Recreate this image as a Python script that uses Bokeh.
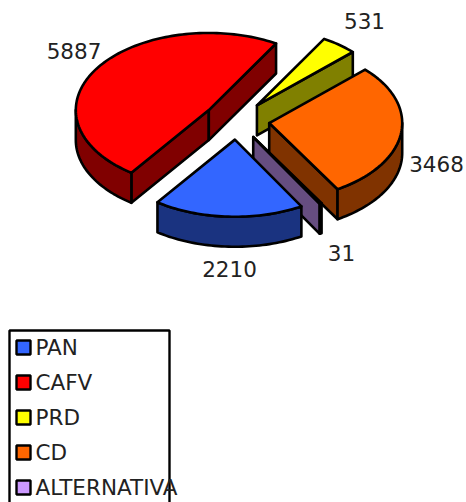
import math
from bokeh.embed import file_html
from bokeh.models import Range1d
from bokeh.plotting import figure
from bokeh.resources import INLINE
from bokeh.core.properties import value

# Data
categories = ["PAN", "CAFV", "PRD", "CD", "ALTERNATIVA"]
votes = [2210, 5887, 531, 3468, 31]
top_colors = ["#3366FF", "#FF0000", "#FFFF00", "#FF6600", "#CC99FF"]
side_colors = ["#1A3380", "#800000", "#808000", "#803300", "#664D80"]

# Layout (page pixels)
CX, CY = 236.0, 120.0
RX, SQUASH = 133.0, 0.58
EXPLODE = 33.0
DEPTH = 30.0
START = 150.0
LINE_W = 2.6
DRAW_ORDER = [1, 2, 3, 4, 0]
LABEL_XY = {"PAN": (229, 268.5), "CAFV": (73.5, 50.5), "PRD": (364, 20.5), "CD": (436, 163.5), "ALTERNATIVA": (341, 252.5)}
FONT = "DejaVu Sans"
FONT_SIZE = "21.5px"
LEG_X0, LEG_X1, LEG_Y0, LEG_Y1 = 9, 169, 330, 530
ROW0, ROW_STEP = 347, 35

p = figure(width=466, height=502, output_backend="svg", toolbar_location=None,
           x_range=Range1d(0, 466), y_range=Range1d(502, 0), min_border=0,
           tools="", outline_line_color=None, background_fill_color="white")
p.axis.visible = False
p.grid.visible = False


def plan(deg, r=RX, ox=0.0, oy=0.0, drop=0.0):
    a = math.radians(deg)
    return ox + r * math.sin(a), oy - r * SQUASH * math.cos(a) + drop


def arc(a0, a1, ox, oy, drop=0.0):
    n = max(2, int(abs(a1 - a0) / 1.5) + 2)
    return [plan(a0 + (a1 - a0) * i / (n - 1), RX, ox, oy, drop) for i in range(n)]


def poly(pts, fill):
    p.patch([q[0] for q in pts], [q[1] for q in pts], fill_color=fill, line_color="black",
            line_width=LINE_W, line_join="round")


total = sum(votes)
spans = []
a = START
for v in votes:
    s = v / total * 360
    spans.append((a, a + s))
    a += s

for i in DRAW_ORDER:
    a0, a1 = spans[i]
    mid = (a0 + a1) / 2
    ox, oy = plan(mid, EXPLODE, CX, CY)
    side = side_colors[i]
    # radial faces facing the viewer
    if math.sin(math.radians(a0)) < 0:
        r = plan(a0, RX, ox, oy)
        poly([(ox, oy), r, (r[0], r[1] + DEPTH), (ox, oy + DEPTH)], side)
    if math.sin(math.radians(a1)) > 0:
        r = plan(a1, RX, ox, oy)
        poly([(ox, oy), r, (r[0], r[1] + DEPTH), (ox, oy + DEPTH)], side)
    # outer wall: the part of the rim between 90 and 270 degrees (angles may run past 360)
    for turn in (0.0, 360.0):
        w0, w1 = max(a0, 90.0 + turn), min(a1, 270.0 + turn)
        if w1 > w0:
            top = arc(w0, w1, ox, oy)
            bot = arc(w1, w0, ox, oy, DEPTH)
            poly(top + bot, side)
    # top surface
    poly([(ox, oy)] + arc(a0, a1, ox, oy), top_colors[i])

# value labels
p.text([LABEL_XY[c][0] for c in categories], [LABEL_XY[c][1] for c in categories],
       text=[str(v) for v in votes], text_font=value(FONT), text_font_size=FONT_SIZE,
       text_align="center", text_baseline="middle", text_color="#222222")

# legend
p.quad(left=[LEG_X0], right=[LEG_X1], top=[LEG_Y0], bottom=[LEG_Y1], fill_color="white",
       line_color="black", line_width=2.4)
rows = [ROW0 + ROW_STEP * i for i in range(len(categories))]
p.quad(left=[16] * 5, right=[30] * 5, top=[r - 7 for r in rows], bottom=[r + 7 for r in rows],
       fill_color=top_colors, line_color="black", line_width=2.4)
p.text([35] * 5, rows, text=categories, text_font=value(FONT), text_font_size=FONT_SIZE,
       text_align="left", text_baseline="middle", text_color="#222222")

open("out.html", "w").write(file_html(p, INLINE))
